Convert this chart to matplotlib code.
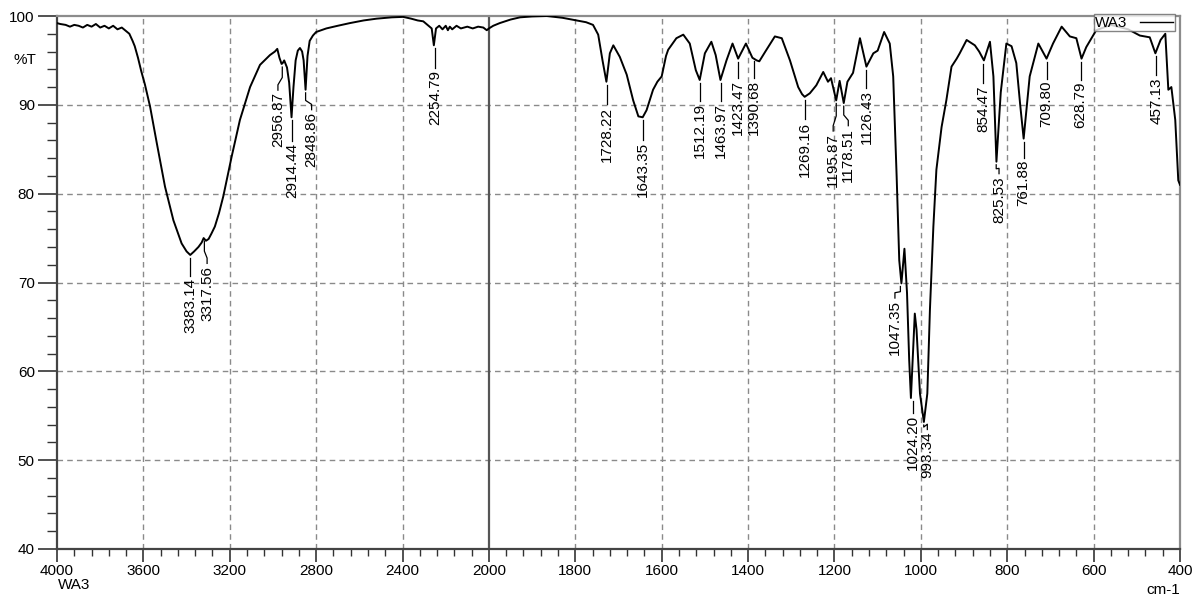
import numpy as np
import matplotlib
matplotlib.use("Agg")
import matplotlib.pyplot as plt
from matplotlib.ticker import FixedLocator, NullFormatter

plt.rcParams['font.family'] = ['Liberation Sans', 'DejaVu Sans']

# ---------------- data ----------------
wavenumber = [4000, 3985, 3960, 3940, 3920, 3900, 3880, 3860, 3840, 3820, 3800, 3780, 3760, 3740,
              3720, 3700, 3680, 3665, 3650, 3640, 3625, 3610, 3593, 3569, 3538, 3500, 3461, 3423,
              3400, 3383, 3365, 3345, 3330, 3321, 3310, 3298, 3285, 3269, 3250, 3230, 3191, 3153,
              3106, 3060, 3014, 2991, 2980, 2970, 2960, 2955, 2948, 2935, 2925, 2914, 2905, 2895,
              2885, 2875, 2865, 2858, 2849, 2840, 2830, 2815, 2800, 2753, 2700, 2644, 2580, 2520,
              2450, 2397, 2360, 2330, 2304, 2280, 2265, 2255, 2245, 2230, 2215, 2200, 2190, 2181,
              2170, 2150, 2130, 2100, 2075, 2050, 2026, 2010, 2000, 1990, 1975, 1950, 1928, 1900,
              1866, 1830, 1797, 1775, 1759, 1747, 1737, 1728, 1720, 1712, 1697, 1681, 1666, 1654,
              1644, 1635, 1620, 1610, 1600, 1590, 1585, 1566, 1550, 1535, 1521, 1512, 1500, 1485,
              1475, 1464, 1450, 1436, 1423, 1405, 1390, 1380, 1374, 1360, 1338, 1322, 1303, 1284,
              1275, 1269, 1257, 1242, 1226, 1215, 1208, 1196, 1188, 1178.5, 1170, 1157, 1141, 1126,
              1110, 1100, 1085, 1072, 1064, 1056, 1050, 1045, 1038, 1032, 1027, 1023, 1019, 1014,
              1010, 1002, 993, 985, 979, 971, 964, 952, 941, 929, 917, 910, 894, 875, 865, 854,
              840, 832, 825, 815, 802, 790, 779, 770, 762, 748, 728, 709, 694, 674, 655, 640, 628,
              617, 594, 560, 520, 493, 470, 457, 445, 434, 427, 420, 411, 404, 400]
transmittance = [99.2, 99.1, 99.0, 98.8, 99.0, 98.9, 98.7, 99.0, 98.8, 99.1, 98.7, 98.9, 98.6, 98.9,
                 98.5, 98.7, 98.3, 98.0, 97.2, 96.6, 95.3, 93.8, 92.3, 89.8, 85.7, 80.8, 77.0, 74.4,
                 73.5, 73.1, 73.5, 74.0, 74.5, 75.0, 74.7, 74.9, 75.5, 76.3, 77.8, 79.7, 84.2, 88.3,
                 92.0, 94.5, 95.6, 96.0, 96.3, 95.3, 94.6, 94.7, 95.0, 94.2, 92.5, 88.6, 92.0, 95.0,
                 96.1, 96.4, 96.0, 95.0, 91.7, 95.5, 97.2, 97.8, 98.2, 98.6, 98.9, 99.2, 99.5, 99.7,
                 99.85, 99.9, 99.7, 99.5, 99.4, 98.9, 98.6, 96.7, 98.6, 98.9, 98.5, 98.9, 98.4, 98.8,
                 98.5, 98.9, 98.6, 98.8, 98.6, 98.8, 98.7, 98.4, 98.6, 98.9, 99.2, 99.6, 99.85, 99.95,
                 100.0, 99.8, 99.5, 99.3, 99.0, 97.9, 95.0, 92.6, 95.8, 96.7, 95.4, 93.4, 90.5, 88.7,
                 88.6, 89.4, 91.7, 92.6, 93.2, 95.5, 96.2, 97.5, 97.9, 96.9, 93.9, 92.8, 95.8, 97.1,
                 95.6, 92.8, 95.0, 96.9, 95.2, 96.9, 95.3, 95.0, 94.9, 96.0, 97.7, 97.5, 95.0, 92.0,
                 91.2, 90.9, 91.3, 92.2, 93.7, 92.6, 93.0, 90.5, 92.7, 90.2, 92.6, 93.6, 97.5, 94.3,
                 95.8, 96.1, 98.2, 96.9, 93.2, 81.9, 72.5, 69.9, 73.8, 68.8, 61.3, 57.0, 61.3, 66.5,
                 64.7, 57.5, 54.3, 57.5, 66.9, 76.3, 82.7, 87.5, 90.5, 94.3, 95.2, 95.8, 97.3, 96.7, 96.0, 95.0,
                 97.1, 93.2, 83.6, 91.4, 96.9, 96.6, 94.7, 90.0, 86.2, 93.2, 96.9, 95.2, 96.9, 98.8, 97.7, 97.5, 95.2,
                 96.5, 98.4, 99.0, 98.5, 97.8, 97.6, 95.8, 97.3, 98.0, 91.7, 92.0, 88.3, 81.5, 81.0]

peak_labels = ['3383.14', '3317.56', '2956.87', '2914.44', '2848.86', '2254.79', '1728.22',
               '1643.35', '1512.19', '1463.97', '1423.47', '1390.68', '1269.16', '1195.87',
               '1178.51', '1126.43', '1047.35', '1024.20', '993.34', '854.47', '825.53',
               '761.88', '709.80', '628.79', '457.13']
peak_wn = [3383.14, 3317.56, 2956.87, 2914.44, 2848.86, 2254.79, 1728.22, 1643.35, 1512.19,
           1463.97, 1423.47, 1390.68, 1269.16, 1195.87, 1178.51, 1126.43, 1047.35, 1024.20,
           993.34, 854.47, 825.53, 761.88, 709.80, 628.79, 457.13]
peak_T = [73.1, 75.0, 94.6, 88.6, 91.7, 96.7, 92.6, 88.6, 92.8, 92.8, 95.2, 95.3, 90.9, 90.5,
          90.2, 94.3, 69.9, 57.0, 54.3, 95.0, 83.6, 86.2, 95.2, 95.2, 95.8]

# layout of annotation texts (x centre of text, top of text in %T)
label_x = [3384, 3305, 2977, 2910, 2821, 2250, 1727, 1644, 1512, 1462, 1424, 1386, 1269, 1203,
           1168, 1126, 1060, 1019, 985, 856, 819, 762, 709, 630, 455]
label_top = [70.5, 71.9, 91.4, 85.7, 89.2, 93.9, 89.8, 85.8, 90.2, 90.2, 92.8, 92.8, 88.1, 86.8,
             87.4, 91.7, 68.0, 55.1, 53.2, 92.2, 82.0, 83.8, 92.7, 92.6, 93.1]

x_major = [4000, 3600, 3200, 2800, 2400, 2000, 1800, 1600, 1400, 1200, 1000, 800, 600, 400]
y_major = [40, 50, 60, 70, 80, 90, 100]


# ---------------- scale ----------------
def fwd(x):
    x = np.asarray(x, dtype=float)
    return np.where(x <= 2000, x, 2000 + (x - 2000) / 2.0)


def inv(u):
    u = np.asarray(u, dtype=float)
    return np.where(u <= 2000, u, 2000 + (u - 2000) * 2.0)


fig = plt.figure(figsize=(11.97, 5.99), dpi=100)
ax = fig.add_axes([57 / 1197, 1 - 549 / 599, (1180 - 57) / 1197, (549 - 16) / 599])
ax.set_xscale('function', functions=(fwd, inv))
ax.set_xlim(4000, 400)
ax.set_ylim(40, 100)

# grid
grid_kw = dict(color='#8a8a8a', lw=1.0, ls=(0, (4, 3)), zorder=1)
for xv in x_major[1:-1]:
    if xv != 2000:
        ax.axvline(xv, **grid_kw)
for yv in y_major[1:-1]:
    ax.axhline(yv, **grid_kw)
ax.axvline(2000, color='#555555', lw=1.6, zorder=1.5)

# spectrum
ax.plot(wavenumber, transmittance, color='black', lw=1.4, zorder=3, label='WA3',
        solid_joinstyle='round')

# peak annotations
for lab, pw, pt, lx, lt in zip(peak_labels, peak_wn, peak_T, label_x, label_top):
    y0 = pt - 0.35
    y1 = lt + 0.25
    if abs(lx - pw) < 6:
        ax.plot([lx, lx], [y0, y1], color='black', lw=0.9, zorder=3)
    else:
        knee = y0 - (y0 - y1) * 0.45
        ax.plot([pw, pw, lx, lx], [y0, knee, y1 + 0.6, y1], color='black', lw=0.9, zorder=3)
    ax.text(lx, lt, lab, rotation=90, ha='center', va='top', fontsize=11, zorder=4)

# ticks
ax.xaxis.set_major_locator(FixedLocator(x_major))
ax.set_xticklabels([str(v) for v in x_major])
minor_x = [v for v in range(4000, 2000, -80)] + [v for v in range(2000, 399, -40)]
ax.xaxis.set_minor_locator(FixedLocator(minor_x))
ax.xaxis.set_minor_formatter(NullFormatter())
ax.yaxis.set_major_locator(FixedLocator(y_major))
ax.yaxis.set_minor_locator(FixedLocator(list(range(40, 101, 2))))
ax.tick_params(axis='y', which='major', direction='out', length=14, width=1.2, labelsize=11,
               pad=2, colors='#333333', labelcolor='black')
ax.tick_params(axis='y', which='minor', direction='out', length=7, width=1.0, colors='#333333')
ax.tick_params(axis='x', which='major', direction='out', length=9.5, width=1.2, labelsize=11,
               pad=1.5, colors='#333333', labelcolor='black')
ax.tick_params(axis='x', which='minor', direction='out', length=5, width=1.0, colors='#333333')

for s in ['left', 'bottom']:
    ax.spines[s].set_color('#444444')
    ax.spines[s].set_linewidth(1.6)
for s in ['top', 'right']:
    ax.spines[s].set_color('#8c8c8c')
    ax.spines[s].set_linewidth(1.6)

# texts
fig.text(14 / 1197, 1 - 60 / 599, '%T', fontsize=11, ha='left', va='center')
fig.text(58 / 1197, 1 - 585 / 599, 'WA3', fontsize=11, ha='left', va='center')
fig.text(1180 / 1197, 1 - 590 / 599, 'cm-1', fontsize=11, ha='right', va='center')

leg = ax.legend(loc='upper right', bbox_to_anchor=((1175 - 57) / 1123, 1.003), frameon=True,
                fancybox=False, markerfirst=False, fontsize=11, handlelength=2.2,
                borderpad=0.1, borderaxespad=0, handletextpad=0.8)
leg.get_frame().set_edgecolor('#666666')
leg.get_frame().set_linewidth(1.0)
for h in leg.get_lines():
    h.set_linewidth(1.0)

fig.savefig('out.png', dpi=100)
